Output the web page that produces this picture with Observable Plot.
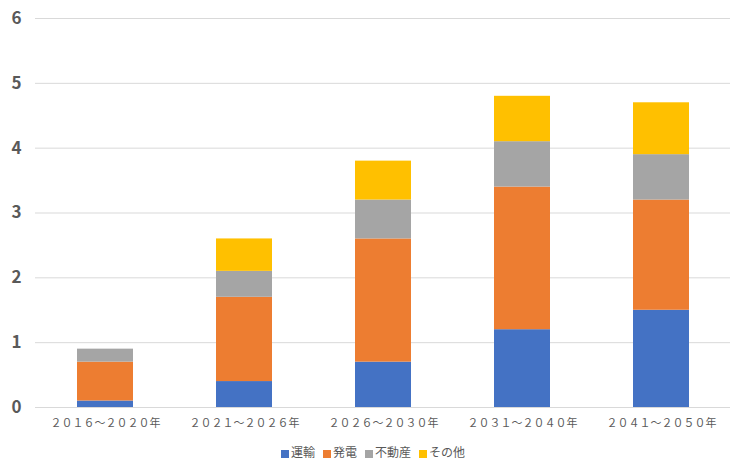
<!DOCTYPE html>
<html><head><meta charset="utf-8">
<script src="https://cdn.jsdelivr.net/npm/d3@7"></script>
<script src="https://cdn.jsdelivr.net/npm/@observablehq/plot@0.6"></script>
<style>
body{margin:0;background:#fff;font-family:"Noto Sans CJK JP",sans-serif;}
#legend{display:flex;justify-content:center;gap:8px;font-size:12px;color:#595959;height:27px;align-items:center;margin-left:8px}
#legend span.sw{display:inline-block;width:8px;height:8px;margin-right:2px;vertical-align:middle}
</style></head>
<body><div id="chart"></div><div id="legend"></div>
<script>
const categories = ["２０１６～２０２０年","２０２１～２０２６年","２０２６～２０３０年","２０３１～２０４０年","２０４１～２０５０年"];
const seriesNames = ["運輸","発電","不動産","その他"];
const colors = ["#4472C4","#ED7D31","#A5A5A5","#FFC000"];
const transport = [0.1,0.4,0.7,1.2,1.5];
const power = [0.6,1.3,1.9,2.2,1.7];
const realEstate = [0.2,0.4,0.6,0.7,0.7];
const other = [0.0,0.5,0.6,0.7,0.8];
const yTicks = [0,1,2,3,4,5,6];

const seriesValues = [transport, power, realEstate, other];
const data = [];
seriesNames.forEach((s,i)=>categories.forEach((c,j)=>data.push({category:c, series:s, value:seriesValues[i][j]})));

const chart = Plot.plot({
  width:738, height:438,
  marginTop:18, marginBottom:31, marginLeft:35, marginRight:8,
  x:{domain:categories, paddingInner:0.6, paddingOuter:0.3, label:null, tickSize:0, tickPadding:12},
  y:{domain:[0,6], ticks:yTicks, label:null, tickSize:0, tickPadding:14, tickFormat:"d"},
  color:{domain:seriesNames, range:colors},
  style:{fontFamily:"Noto Sans CJK JP, sans-serif", background:"#fff"},
  marks:[
    Plot.gridY(yTicks,{stroke:"#d9d9d9", strokeOpacity:1}),
    Plot.barY(data, Plot.stackY({x:"category", y:"value", fill:"series", order:seriesNames})),
    Plot.axisY({ticks:yTicks, tickFormat:"d", tickSize:0, tickPadding:14, fontSize:17, fontWeight:"bold", fill:"#595959", label:null}),
    Plot.axisX({tickSize:0, tickPadding:12, fontSize:11, fill:"#595959", label:null, letterSpacing:"3px"})
  ]
});
document.getElementById("chart").appendChild(chart);
const lg = document.getElementById("legend");
seriesNames.forEach((s,i)=>{
  const d=document.createElement("div");
  d.innerHTML=`<span class="sw" style="background:${colors[i]}"></span>${s}`;
  lg.appendChild(d);
});
</script></body></html>
